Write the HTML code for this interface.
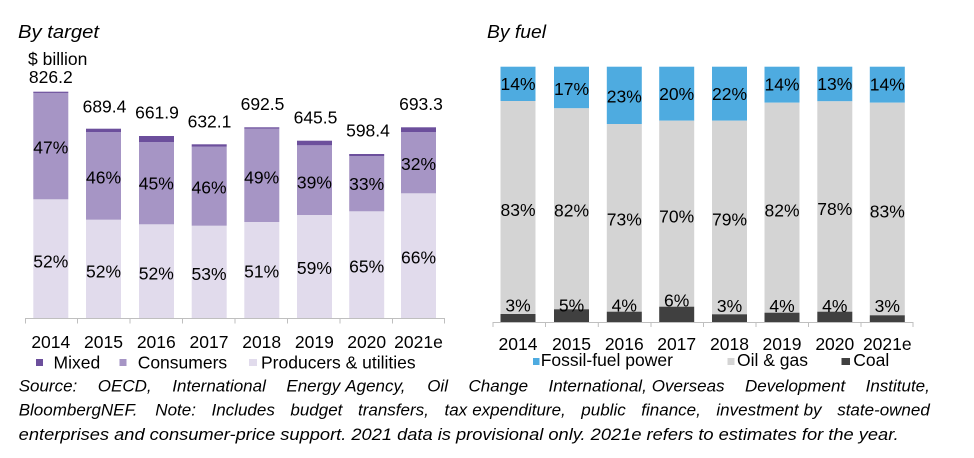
<!DOCTYPE html>
<html><head><meta charset="utf-8"><style>
html,body{margin:0;padding:0;background:#fff;}
svg{display:block;}
text{font-family:"Liberation Sans",Arial,sans-serif;fill:#000;}
.c{font-size:17.5px;text-anchor:middle;}
.l{font-size:17.5px;}
.t{font-size:18px;font-style:italic;}
.s{font-size:17px;font-style:italic;}
</style></head><body>
<svg width="974" height="458" viewBox="0 0 974 458" xmlns="http://www.w3.org/2000/svg">
<rect width="974" height="458" fill="#fff"/>
<!-- Titles -->
<text class="t" x="18" y="38" textLength="81" lengthAdjust="spacingAndGlyphs">By target</text>
<text class="t" x="487" y="38" textLength="59" lengthAdjust="spacingAndGlyphs">By fuel</text>
<text class="l" x="28" y="65">$ billion</text>

<!-- LEFT CHART bars -->
<g>
<rect x="33.3" y="199.3" width="35" height="118.7" fill="#e1dbec"/>
<rect x="33.3" y="92.7" width="35" height="106.6" fill="#a695c5"/>
<rect x="33.3" y="91.7" width="35" height="1.2" fill="#6c4f9c"/>
<rect x="86" y="219.7" width="35" height="98.3" fill="#e1dbec"/>
<rect x="86" y="132" width="35" height="87.7" fill="#a695c5"/>
<rect x="86" y="128.7" width="35" height="3.3" fill="#6c4f9c"/>
<rect x="139" y="224.3" width="35" height="93.7" fill="#e1dbec"/>
<rect x="139" y="142" width="35" height="82.3" fill="#a695c5"/>
<rect x="139" y="136" width="35" height="6" fill="#6c4f9c"/>
<rect x="191.7" y="225.7" width="35" height="92.3" fill="#e1dbec"/>
<rect x="191.7" y="146.7" width="35" height="79" fill="#a695c5"/>
<rect x="191.7" y="144.3" width="35" height="2.4" fill="#6c4f9c"/>
<rect x="244.3" y="222" width="35" height="96" fill="#e1dbec"/>
<rect x="244.3" y="128.7" width="35" height="93.3" fill="#a695c5"/>
<rect x="244.3" y="127.3" width="35" height="1.4" fill="#6c4f9c"/>
<rect x="297" y="215" width="35" height="103" fill="#e1dbec"/>
<rect x="297" y="145.3" width="35" height="69.7" fill="#a695c5"/>
<rect x="297" y="140.7" width="35" height="4.6" fill="#6c4f9c"/>
<rect x="349.2" y="211.3" width="35" height="106.7" fill="#e1dbec"/>
<rect x="349.2" y="156" width="35" height="55.3" fill="#a695c5"/>
<rect x="349.2" y="154" width="35" height="2" fill="#6c4f9c"/>
<rect x="401" y="193.3" width="35" height="124.7" fill="#e1dbec"/>
<rect x="401" y="132" width="35" height="61.3" fill="#a695c5"/>
<rect x="401" y="127.3" width="35" height="4.7" fill="#6c4f9c"/>
</g>
<!-- left axis -->
<g stroke="#bfbfbf" stroke-width="1">
<line x1="25" y1="318.5" x2="445" y2="318.5"/>
<line x1="25.5" y1="318.5" x2="25.5" y2="323.5"/>
<line x1="77.5" y1="318.5" x2="77.5" y2="323.5"/>
<line x1="130" y1="318.5" x2="130" y2="323.5"/>
<line x1="182.5" y1="318.5" x2="182.5" y2="323.5"/>
<line x1="235" y1="318.5" x2="235" y2="323.5"/>
<line x1="287.5" y1="318.5" x2="287.5" y2="323.5"/>
<line x1="340" y1="318.5" x2="340" y2="323.5"/>
<line x1="392.5" y1="318.5" x2="392.5" y2="323.5"/>
<line x1="444.5" y1="318.5" x2="444.5" y2="323.5"/>
</g>
<!-- left totals -->
<text class="c" x="50.8" y="83">826.2</text>
<text class="c" x="104.5" y="112.3">689.4</text>
<text class="c" x="157" y="118.3">661.9</text>
<text class="c" x="209.5" y="127.7">632.1</text>
<text class="c" x="262.5" y="110">692.5</text>
<text class="c" x="315.5" y="123.3">645.5</text>
<text class="c" x="368" y="136.7">598.4</text>
<text class="c" x="421" y="110">693.3</text>
<!-- consumer % -->
<text class="c" x="50.8" y="153.3">47%</text>
<text class="c" x="103.5" y="183.3">46%</text>
<text class="c" x="156.3" y="189.3">45%</text>
<text class="c" x="209" y="193.3">46%</text>
<text class="c" x="261.7" y="183.3">49%</text>
<text class="c" x="314.4" y="188.3">39%</text>
<text class="c" x="366.7" y="190">33%</text>
<text class="c" x="418.5" y="170">32%</text>
<!-- producer % -->
<text class="c" x="50.8" y="267.3">52%</text>
<text class="c" x="103.5" y="277.3">52%</text>
<text class="c" x="156.3" y="279.3">52%</text>
<text class="c" x="209" y="280">53%</text>
<text class="c" x="261.7" y="277.3">51%</text>
<text class="c" x="314.4" y="274">59%</text>
<text class="c" x="366.7" y="272.7">65%</text>
<text class="c" x="418.5" y="263.3">66%</text>
<!-- left years -->
<text class="c" x="50.8" y="348">2014</text>
<text class="c" x="103.5" y="348">2015</text>
<text class="c" x="156.3" y="348">2016</text>
<text class="c" x="209" y="348">2017</text>
<text class="c" x="261.7" y="348">2018</text>
<text class="c" x="314.4" y="348">2019</text>
<text class="c" x="366.7" y="348">2020</text>
<text class="c" x="418.5" y="348">2021e</text>
<!-- left legend -->
<rect x="36" y="359" width="7" height="7" fill="#6c4f9c"/>
<text class="l" x="53.5" y="368.5">Mixed</text>
<rect x="119.5" y="359" width="7" height="7" fill="#a695c5"/>
<text class="l" x="137.7" y="368.5">Consumers</text>
<rect x="249" y="359" width="8" height="7" fill="#e1dbec"/>
<text class="l" x="261" y="368.5">Producers &amp; utilities</text>

<!-- RIGHT CHART bars -->
<g>
<rect x="500.5" y="66.7" width="35" height="34.3" fill="#4eabe0"/>
<rect x="500.5" y="101" width="35" height="213" fill="#d4d4d4"/>
<rect x="500.5" y="314" width="35" height="8.3" fill="#404040"/>
<rect x="554" y="66.7" width="35" height="41.6" fill="#4eabe0"/>
<rect x="554" y="108.3" width="35" height="201" fill="#d4d4d4"/>
<rect x="554" y="309.3" width="35" height="13" fill="#404040"/>
<rect x="606.8" y="66.7" width="35" height="57.3" fill="#4eabe0"/>
<rect x="606.8" y="124" width="35" height="187.7" fill="#d4d4d4"/>
<rect x="606.8" y="311.7" width="35" height="10.6" fill="#404040"/>
<rect x="659.2" y="66.7" width="35" height="54" fill="#4eabe0"/>
<rect x="659.2" y="120.7" width="35" height="186" fill="#d4d4d4"/>
<rect x="659.2" y="306.7" width="35" height="15.6" fill="#404040"/>
<rect x="712" y="66.7" width="35" height="54" fill="#4eabe0"/>
<rect x="712" y="120.7" width="35" height="193.6" fill="#d4d4d4"/>
<rect x="712" y="314.3" width="35" height="8" fill="#404040"/>
<rect x="764.5" y="66.7" width="35" height="36" fill="#4eabe0"/>
<rect x="764.5" y="102.7" width="35" height="210" fill="#d4d4d4"/>
<rect x="764.5" y="312.7" width="35" height="9.6" fill="#404040"/>
<rect x="817.3" y="66.7" width="35" height="34.6" fill="#4eabe0"/>
<rect x="817.3" y="101.3" width="35" height="210.4" fill="#d4d4d4"/>
<rect x="817.3" y="311.7" width="35" height="10.6" fill="#404040"/>
<rect x="869.8" y="66.7" width="35" height="36" fill="#4eabe0"/>
<rect x="869.8" y="102.7" width="35" height="212.6" fill="#d4d4d4"/>
<rect x="869.8" y="315.3" width="35" height="7" fill="#404040"/>
</g>
<!-- right axis -->
<g stroke="#bfbfbf" stroke-width="1">
<line x1="492.5" y1="322.5" x2="913.5" y2="322.5"/>
<line x1="493" y1="322.5" x2="493" y2="327"/>
<line x1="545.5" y1="322.5" x2="545.5" y2="327"/>
<line x1="598.3" y1="322.5" x2="598.3" y2="327"/>
<line x1="651" y1="322.5" x2="651" y2="327"/>
<line x1="703.5" y1="322.5" x2="703.5" y2="327"/>
<line x1="756" y1="322.5" x2="756" y2="327"/>
<line x1="808.5" y1="322.5" x2="808.5" y2="327"/>
<line x1="861" y1="322.5" x2="861" y2="327"/>
<line x1="913" y1="322.5" x2="913" y2="327"/>
</g>
<!-- blue % -->
<text class="c" x="518" y="90">14%</text>
<text class="c" x="571.5" y="95">17%</text>
<text class="c" x="624.3" y="102.7">23%</text>
<text class="c" x="676.7" y="100">20%</text>
<text class="c" x="729.5" y="100">22%</text>
<text class="c" x="782" y="90.7">14%</text>
<text class="c" x="834.8" y="90">13%</text>
<text class="c" x="887.3" y="90.7">14%</text>
<!-- gray % -->
<text class="c" x="518" y="216">83%</text>
<text class="c" x="571.5" y="216.7">82%</text>
<text class="c" x="624.3" y="225.7">73%</text>
<text class="c" x="676.7" y="222.3">70%</text>
<text class="c" x="729.5" y="225.7">79%</text>
<text class="c" x="782" y="216.7">82%</text>
<text class="c" x="834.8" y="215">78%</text>
<text class="c" x="887.3" y="217.7">83%</text>
<!-- coal % -->
<text class="c" x="518" y="311.7">3%</text>
<text class="c" x="571.5" y="311.7">5%</text>
<text class="c" x="624.3" y="311.7">4%</text>
<text class="c" x="676.7" y="306.7">6%</text>
<text class="c" x="729.5" y="312">3%</text>
<text class="c" x="782" y="312">4%</text>
<text class="c" x="834.8" y="312">4%</text>
<text class="c" x="887.3" y="312">3%</text>
<!-- right years -->
<text class="c" x="518" y="350">2014</text>
<text class="c" x="571.5" y="350">2015</text>
<text class="c" x="624.3" y="350">2016</text>
<text class="c" x="676.7" y="350">2017</text>
<text class="c" x="729.5" y="350">2018</text>
<text class="c" x="782" y="350">2019</text>
<text class="c" x="834.8" y="350">2020</text>
<text class="c" x="887.3" y="350">2021e</text>
<!-- right legend -->
<rect x="533" y="358" width="6.5" height="7" fill="#4eabe0"/>
<text class="l" x="540.7" y="366">Fossil-fuel power</text>
<rect x="727.5" y="358" width="7" height="7" fill="#d4d4d4"/>
<text class="l" x="737" y="366">Oil &amp; gas</text>
<rect x="841.5" y="358" width="8.5" height="7" fill="#404040"/>
<text class="l" x="853.3" y="366">Coal</text>

<!-- Source note line 1 (justified) -->
<text class="s" x="18.7" y="391.5">Source:</text>
<text class="s" x="97.8" y="391.5">OECD,</text>
<text class="s" x="172.3" y="391.5">International</text>
<text class="s" x="286.4" y="391.5">Energy</text>
<text class="s" x="345.3" y="391.5">Agency,</text>
<text class="s" x="427.2" y="391.5">Oil</text>
<text class="s" x="468.5" y="391.5">Change</text>
<text class="s" x="548.5" y="391.5">International,</text>
<text class="s" x="651.8" y="391.5">Overseas</text>
<text class="s" x="745" y="391.5">Development</text>
<text class="s" x="865.6" y="391.5">Institute,</text>
<!-- line 2 (justified) -->
<text class="s" x="18.7" y="415.5">BloombergNEF.</text>
<text class="s" x="155.3" y="415.5">Note:</text>
<text class="s" x="211.5" y="415.5">Includes</text>
<text class="s" x="290.4" y="415.5">budget</text>
<text class="s" x="358" y="415.5">transfers,</text>
<text class="s" x="444.5" y="415.5">tax</text>
<text class="s" x="472.2" y="415.5">expenditure,</text>
<text class="s" x="581.3" y="415.5">public</text>
<text class="s" x="641.3" y="415.5">finance,</text>
<text class="s" x="716.4" y="415.5">investment</text>
<text class="s" x="803.6" y="415.5">by</text>
<text class="s" x="837.2" y="415.5">state-owned</text>
<!-- line 3 -->
<text class="s" x="18.7" y="440" textLength="880" lengthAdjust="spacingAndGlyphs">enterprises and consumer-price support. 2021 data is provisional only. 2021e refers to estimates for the year.</text>
</svg>
</body></html>
